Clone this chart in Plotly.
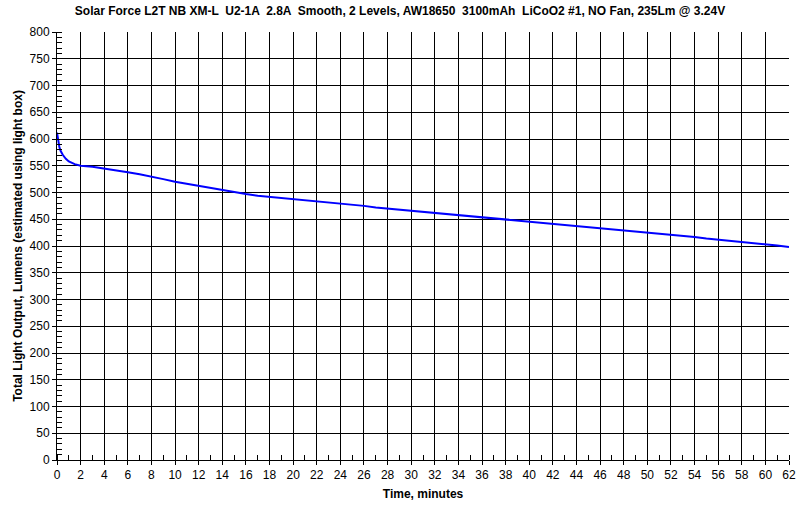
import plotly.graph_objects as go

time_min = [0, 0.1, 0.2, 0.3, 0.5, 0.75, 1, 1.5, 2, 3, 4, 5, 6, 7, 8, 9, 10, 11, 12, 13, 14, 15,
            16, 17, 18, 19, 20, 21, 22, 23, 24, 25, 26, 27, 28, 29, 30, 31, 32, 33, 34, 35, 36,
            37, 38, 39, 40, 41, 42, 43, 44, 45, 46, 47, 48, 49, 50, 51, 52, 53, 54, 55, 56, 57,
            58, 59, 60, 61, 62]
lumens = [612, 595, 585, 578, 570, 563, 558, 553, 550, 548, 545, 541, 538, 534, 530, 525, 520,
          516, 512, 508, 504, 500, 497, 494, 492, 490, 488, 485, 483, 481, 479, 477, 475, 472,
          470, 468, 466, 463, 461, 459, 457, 455, 453, 451, 449, 447, 445, 444, 442, 440, 437,
          435, 433, 431, 429, 427, 425, 423, 421, 419, 417, 414, 412, 410, 407, 405, 403, 401, 398]

title_text = "Solar Force L2T NB XM-L  U2-1A  2.8A  Smooth, 2 Levels, AW18650  3100mAh  LiCoO2 #1, NO Fan, 235Lm @ 3.24V"
x_title = "Time, minutes"
y_title = "Total Light Output, Lumens (estimated using light box)"

fig = go.Figure()
fig.add_trace(go.Scatter(x=time_min, y=lumens, mode="lines",
                         line=dict(color="#0000FF", width=2), showlegend=False,
                         hoverinfo="skip"))

font_family = "Liberation Sans, Arial, sans-serif"
fig.update_layout(
    width=800, height=513,
    margin=dict(l=57, r=11, t=32, b=53, autoexpand=False),
    paper_bgcolor="white", plot_bgcolor="white",
    font=dict(family=font_family, size=12, color="black"),
    title=dict(text="<b>" + title_text + "</b>", x=0.5, xanchor="center",
               y=0.988, yanchor="top", font=dict(size=12, color="black")),
)
fig.update_xaxes(
    range=[0, 62], dtick=2, tick0=0, automargin=False,
    showgrid=True, gridcolor="black", gridwidth=1,
    showline=True, linecolor="black", linewidth=1, mirror=False,
    ticks="outside", ticklen=4, tickcolor="black",
    minor=dict(dtick=1, ticks="inside", ticklen=5, tickcolor="black", showgrid=False),
    zeroline=False,
    title=dict(text="<b>" + x_title + "</b>", font=dict(size=12), standoff=8),
    tickfont=dict(size=12),
)
fig.update_yaxes(
    range=[0, 800], dtick=50, tick0=0, automargin=False,
    showgrid=True, gridcolor="black", gridwidth=1,
    showline=True, linecolor="black", linewidth=1,
    ticks="outside", ticklen=4, tickcolor="black",
    minor=dict(dtick=10, ticks="inside", ticklen=5, tickcolor="black", showgrid=False),
    zeroline=False,
    title=dict(text="<b>" + y_title + "</b>", font=dict(size=12), standoff=4),
    tickfont=dict(size=12),
)

fig.write_html("out.html", config={"displayModeBar": False},
               post_script="document.body.style.margin='0';document.body.style.overflow='hidden';")
